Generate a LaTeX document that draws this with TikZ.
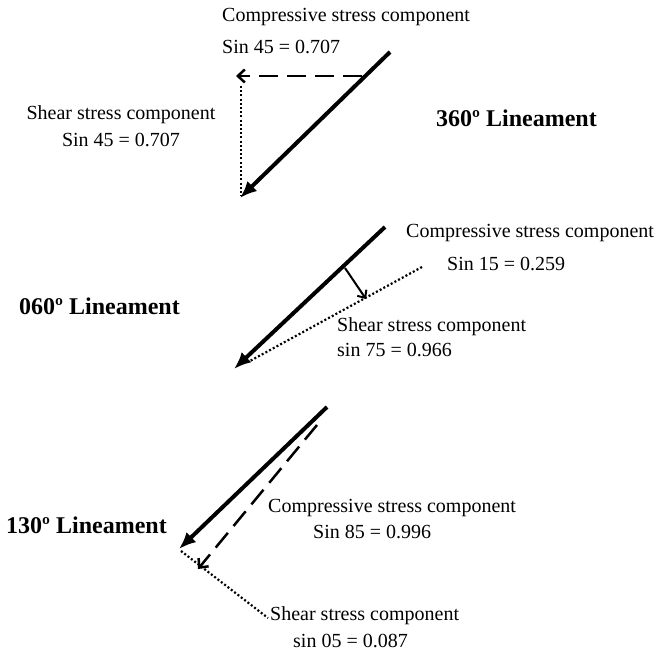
\documentclass[tikz,border=0pt]{standalone}
\usepackage{fontspec}
\setmainfont{Liberation Serif}
\usetikzlibrary{arrows.meta}
\begin{document}
\begin{tikzpicture}[x=1pt,y=-1pt,
  txt/.style={inner sep=0pt,anchor=west,font=\fontsize{20}{24}\selectfont},
  title/.style={inner sep=0pt,anchor=west,font=\fontsize{24}{28}\selectfont\bfseries},
  mainarrow/.style={line width=4pt,-{Latex[length=17pt,width=14pt]}},
  dasharrow/.style={line width=2.5pt,dash pattern=on 19pt off 9pt,-{Straight Barb[length=7pt,width=13pt,line width=2.5pt]}},
  dotline/.style={line width=2.2pt,dash pattern=on 2pt off 2.2pt},
  thinarrow/.style={line width=2pt,-{Straight Barb[length=6pt,width=11pt,line width=2pt]}}]
\useasboundingbox (0,0) rectangle (657,655);

% ---------- top (360) ----------
\coordinate (a1s) at (390,52);
\coordinate (a1e) at (240,198);
\coordinate (d1s) at (362,76);
\coordinate (d1e) at (236,76);
\coordinate (p1s) at (241,86);
\coordinate (p1e) at (241,196);
\draw[mainarrow] (a1s) -- (a1e);
\draw[dasharrow] (d1s) -- (d1e);
\draw[dotline] (p1s) -- (p1e);
\node[txt] (c1) at (222,17) {Compressive stress component};
\node[txt] (c1v) at (222,47) {Sin 45 = 0.707};
\node[inner sep=0pt,align=center,font=\fontsize{20}{27}\selectfont] (s1) at (121,126) {Shear stress component\\Sin 45 = 0.707};
\node[title] (t1) at (436,118) {360º Lineament};

% ---------- middle (060) ----------
\coordinate (a2s) at (385,227);
\coordinate (a2e) at (234,369);
\coordinate (q2s) at (345,268);
\coordinate (q2e) at (366,299);
\coordinate (o2s) at (422,267);
\coordinate (o2e) at (250,361);
\draw[mainarrow] (a2s) -- (a2e);
\draw[dotline] (o2s) -- (o2e);
\draw[thinarrow] (q2s) -- (q2e);
\node[txt] (c2) at (406,233) {Compressive stress component};
\node[txt] (c2v) at (447,264) {Sin 15 = 0.259};
\node[txt] (s2) at (337,327) {Shear stress component};
\node[txt] (s2v) at (337,350) {sin 75 = 0.966};
\node[title] (t2) at (19,306) {060º Lineament};

% ---------- bottom (130) ----------
\coordinate (a3s) at (327,407);
\coordinate (a3e) at (179,549);
\coordinate (d3s) at (317,425);
\coordinate (d3e) at (198,569);
\coordinate (o3s) at (181,551);
\coordinate (o3e) at (268,618);
\draw[mainarrow] (a3s) -- (a3e);
\draw[dasharrow] (d3s) -- (d3e);
\draw[dotline] (o3s) -- (o3e);
\node[txt] (c3) at (268,508) {Compressive stress component};
\node[txt] (c3v) at (313,532) {Sin 85 = 0.996};
\node[txt] (s3) at (270,616) {Shear stress component};
\node[txt] (s3v) at (293,641) {sin 05 = 0.087};
\node[title] (t3) at (6,525) {130º Lineament};
\end{tikzpicture}
\end{document}
